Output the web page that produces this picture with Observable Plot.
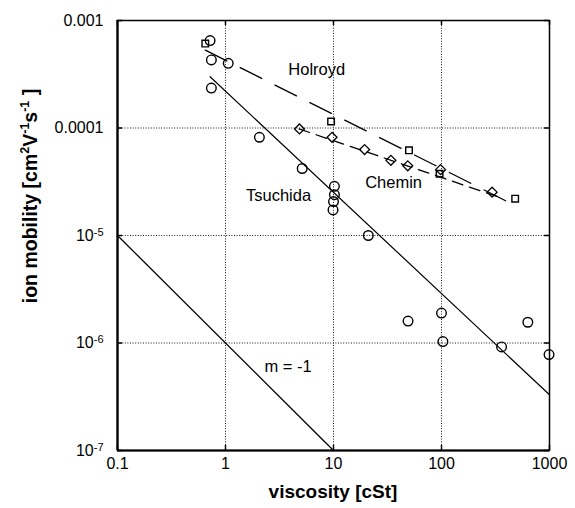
<!DOCTYPE html>
<html>
<head>
<meta charset="utf-8">
<script src="https://cdn.jsdelivr.net/npm/d3@7"></script>
<script src="https://cdn.jsdelivr.net/npm/@observablehq/plot@0.6"></script>
<style>
  html, body { margin: 0; padding: 0; background: #fff; }
  #chart { width: 575px; height: 508px; }
  svg { font-family: "Liberation Sans", Arial, Helvetica, sans-serif; }
</style>
</head>
<body>
<div id="chart"></div>
<script>
// Axis ticks (log-log)
const xTicks = [0.1, 1, 10, 100, 1000];
const xTickLabels = ["0.1", "1", "10", "100", "1000"];
const yTicks = [1e-7, 1e-6, 1e-5, 1e-4, 1e-3];
const yTickLabels = ["10^-7", "10^-6", "10^-5", "0.0001", "0.001"];

// Tsuchida measurements (circles)
const tsuchidaVisc = [0.72, 0.74, 1.06, 0.74, 2.06, 5.13, 10.2, 10.2, 10.0, 9.9, 21, 49, 100, 103, 360, 630, 990];
const tsuchidaMob  = [6.5e-4, 4.3e-4, 4.0e-4, 2.35e-4, 8.2e-5, 4.2e-5, 2.87e-5, 2.4e-5, 2.07e-5, 1.73e-5, 1.0e-5, 1.6e-6, 1.9e-6, 1.03e-6, 9.2e-7, 1.56e-6, 7.8e-7];

// Holroyd measurements (squares)
const holroydVisc = [0.65, 9.5, 50, 96, 481];
const holroydMob  = [6.1e-4, 1.15e-4, 6.2e-5, 3.75e-5, 2.2e-5];

// Chemin measurements (diamonds)
const cheminVisc = [4.84, 9.7, 19.4, 34, 48.7, 98, 294];
const cheminMob  = [9.8e-5, 8.2e-5, 6.3e-5, 5.0e-5, 4.45e-5, 4.1e-5, 2.53e-5];

// Fitted power-law lines (end points)
const tsuchidaFitVisc = [0.72, 1000];
const tsuchidaFitMob  = [3.0e-4, 3.3e-7];
const holroydFitVisc  = [0.65, 481];
const holroydFitMob   = [5.3e-4, 1.9e-5];
const cheminFitVisc   = [4.8, 330];
const cheminFitMob    = [9.8e-5, 2.3e-5];
// Reference slope m = -1
const slopeRefVisc = [0.1, 10];
const slopeRefMob  = [1e-5, 1e-7];

// In-plot annotations
const noteText = ["Holroyd", "Chemin", "Tsuchida", "m = -1"];
const noteVisc = [7.0, 36, 3.1, 3.8];
const noteMob  = [3.5e-4, 3.13e-5, 2.35e-5, 6.0e-7];

const zip = (xs, ys) => xs.map((x, i) => ({x, y: ys[i]}));
const tsuchida = zip(tsuchidaVisc, tsuchidaMob);
const holroyd = zip(holroydVisc, holroydMob);
const chemin = zip(cheminVisc, cheminMob);
const notes = noteText.map((t, i) => ({t, x: noteVisc[i], y: noteMob[i]}));

// Square rotated by 45 degrees
const diamond = {
  draw(context, size) {
    const h = Math.sqrt(size) * 0.8;
    context.moveTo(0, -h);
    context.lineTo(h, 0);
    context.lineTo(0, h);
    context.lineTo(-h, 0);
    context.closePath();
  }
};

const W = 575, H = 508;
const mT = 20, mR = 26, mB = 58, mL = 117;
const innerW = W - mL - mR, innerH = H - mT - mB;

const chart = Plot.plot({
  width: W,
  height: H,
  marginTop: mT, marginRight: mR, marginBottom: mB, marginLeft: mL,
  style: {fontFamily: '"Liberation Sans", Arial, Helvetica, sans-serif', fontSize: "16px", color: "#000", background: "#fff"},
  x: {type: "log", domain: [0.1, 1000]},
  y: {type: "log", domain: [1e-7, 1e-3]},
  marks: [
    Plot.gridX(xTicks, {stroke: "#000", strokeOpacity: 0.9, strokeDasharray: "1,1.6", strokeWidth: 1}),
    Plot.gridY(yTicks, {stroke: "#000", strokeOpacity: 0.9, strokeDasharray: "1,1.6", strokeWidth: 1}),
    Plot.axisX({ticks: xTicks, tickSize: 0, tickPadding: 7, tickFormat: (d) => xTickLabels[xTicks.indexOf(d)], label: null, fontSize: 16}),
    Plot.axisY({ticks: yTicks, tickSize: 0, tickPadding: 14, tickFormat: (d) => yTickLabels[yTicks.indexOf(d)], label: null, fontSize: 16}),
    // short inward ticks on all four sides
    Plot.tickX(xTicks, {x: d => d, insetTop: innerH - 5, stroke: "#000", strokeWidth: 1.5}),
    Plot.tickX(xTicks, {x: d => d, insetBottom: innerH - 5, stroke: "#000", strokeWidth: 1.5}),
    Plot.tickY(yTicks, {y: d => d, insetRight: innerW - 5, stroke: "#000", strokeWidth: 1.5}),
    Plot.tickY(yTicks, {y: d => d, insetLeft: innerW - 5, stroke: "#000", strokeWidth: 1.5}),
    Plot.frame({stroke: "#000", strokeWidth: 1.5}),
    Plot.ruleX([0.1], {stroke: "#000", strokeWidth: 2.2}),
    Plot.ruleY([1e-7], {stroke: "#000", strokeWidth: 2.2}),
    // fitted lines
    Plot.line(zip(slopeRefVisc, slopeRefMob), {x: "x", y: "y", stroke: "#000", strokeWidth: 1.3}),
    Plot.line(zip(tsuchidaFitVisc, tsuchidaFitMob), {x: "x", y: "y", stroke: "#000", strokeWidth: 1.2}),
    Plot.line(zip(holroydFitVisc, holroydFitMob), {x: "x", y: "y", stroke: "#000", strokeWidth: 1.3, strokeDasharray: "24,15"}),
    Plot.line(zip(cheminFitVisc, cheminFitMob), {x: "x", y: "y", stroke: "#000", strokeWidth: 1.3, strokeDasharray: "11,7"}),
    // data points
    Plot.dot(tsuchida, {x: "x", y: "y", r: 4.8, stroke: "#000", fill: "none", strokeWidth: 1.4}),
    Plot.dot(holroyd, {x: "x", y: "y", r: 3.7, symbol: "square", stroke: "#000", fill: "none", strokeWidth: 1.4}),
    Plot.dot(chemin, {x: "x", y: "y", r: 3.5, symbol: diamond, stroke: "#000", fill: "none", strokeWidth: 1.3}),
    // annotations
    Plot.text(notes, {x: "x", y: "y", text: "t", fontSize: 16.5, fill: "#000"})
  ]
});

document.getElementById("chart").appendChild(chart);

const svg = d3.select(chart);

// Turn "10^-n" tick labels into a base with a superscript exponent
svg.selectAll("text").each(function () {
  const el = d3.select(this);
  const s = el.text();
  const m = /^10\^(-?\d+)$/.exec(s);
  if (m) {
    el.text(null);
    el.append("tspan").text("10");
    el.append("tspan").attr("dy", "-0.45em").attr("font-size", "11px").text(m[1]);
  }
});

// Axis titles
svg.append("text")
  .attr("x", mL + innerW / 2)
  .attr("y", 498)
  .attr("text-anchor", "middle")
  .attr("font-size", 19)
  .attr("font-weight", "bold")
  .attr("fill", "#000")
  .text("viscosity [cSt]");

const yTitle = svg.append("text")
  .attr("transform", "translate(37,196) rotate(-90)")
  .attr("text-anchor", "middle")
  .attr("font-size", 19.5)
  .attr("font-weight", "bold")
  .attr("fill", "#000");
yTitle.append("tspan").text("ion mobility [cm");
yTitle.append("tspan").attr("dy", -8).attr("font-size", 12.5).text("2");
yTitle.append("tspan").attr("dy", 8).text("V");
yTitle.append("tspan").attr("dy", -8).attr("font-size", 12.5).text("-1");
yTitle.append("tspan").attr("dy", 8).text("s");
yTitle.append("tspan").attr("dy", -8).attr("font-size", 12.5).text("-1");
yTitle.append("tspan").attr("dy", 8).text(" ]");
</script>
</body>
</html>
